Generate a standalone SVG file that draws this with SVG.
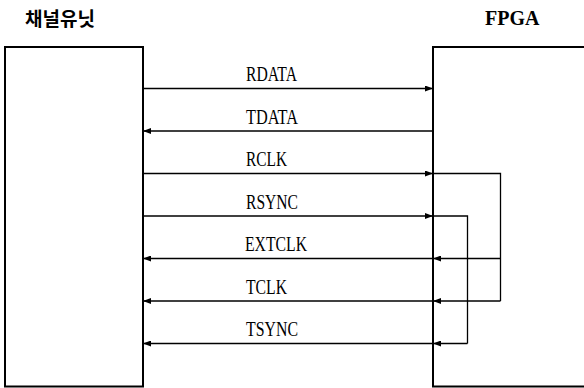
<svg xmlns="http://www.w3.org/2000/svg" width="584" height="388" viewBox="0 0 584 388">
  <style>
    .box { fill: none; stroke: #000; stroke-width: 2; }
    .wire { fill: none; stroke: #000; stroke-width: 1.3; }
    .lbl { font-family: "Liberation Serif", "Times New Roman", serif; font-size: 20px; fill: #000; }
    .title { font-weight: bold; fill: #000; }
  </style>
  <defs>
    <marker id="ah" viewBox="0 0 8 6" refX="8" refY="3" markerWidth="8" markerHeight="6" markerUnits="userSpaceOnUse" orient="auto">
      <path d="M0,0 L8,3 L0,6 z" fill="#000"/>
    </marker>
  </defs>

  <g id="channel-unit">
    <text class="title" x="25" y="26" font-size="19" font-family="'Noto Sans CJK KR', 'Noto Sans', sans-serif">채널유닛</text>
    <rect class="box" x="5" y="47" width="138" height="339.5"/>
  </g>

  <g id="fpga">
    <text class="title" x="485" y="24.5" font-size="20" font-family="'Liberation Serif', 'Times New Roman', serif">FPGA</text>
    <path class="box" d="M590,47 H433 V386.5 H590"/>
  </g>

  <g id="connectors">
    <!-- RDATA -->
    <path class="wire" d="M143,88.5 H433" marker-end="url(#ah)"/>
    <!-- TDATA -->
    <path class="wire" d="M433,131 H143" marker-end="url(#ah)"/>
    <!-- RCLK -->
    <path class="wire" d="M143,173.5 H433" marker-end="url(#ah)"/>
    <path class="wire" d="M433,173.5 H500.5 V301"/>
    <!-- RSYNC -->
    <path class="wire" d="M143,216 H433" marker-end="url(#ah)"/>
    <path class="wire" d="M433,216 H467.5 V343.5"/>
    <!-- EXTCLK -->
    <path class="wire" d="M500.5,258.5 H433" marker-end="url(#ah)"/>
    <path class="wire" d="M433,258.5 H143" marker-end="url(#ah)"/>
    <!-- TCLK -->
    <path class="wire" d="M500.5,301 H433" marker-end="url(#ah)"/>
    <path class="wire" d="M433,301 H143" marker-end="url(#ah)"/>
    <!-- TSYNC -->
    <path class="wire" d="M467.5,343.5 H433" marker-end="url(#ah)"/>
    <path class="wire" d="M433,343.5 H143" marker-end="url(#ah)"/>
  </g>

  <g id="labels">
    <text class="lbl" x="246" y="81" textLength="51" lengthAdjust="spacingAndGlyphs">RDATA</text>
    <text class="lbl" x="246" y="123.5" textLength="52" lengthAdjust="spacingAndGlyphs">TDATA</text>
    <text class="lbl" x="246" y="166" textLength="41" lengthAdjust="spacingAndGlyphs">RCLK</text>
    <text class="lbl" x="246" y="208.5" textLength="52" lengthAdjust="spacingAndGlyphs">RSYNC</text>
    <text class="lbl" x="245" y="251" textLength="62" lengthAdjust="spacingAndGlyphs">EXTCLK</text>
    <text class="lbl" x="246" y="293.5" textLength="41" lengthAdjust="spacingAndGlyphs">TCLK</text>
    <text class="lbl" x="246" y="336" textLength="52" lengthAdjust="spacingAndGlyphs">TSYNC</text>
  </g>
</svg>
